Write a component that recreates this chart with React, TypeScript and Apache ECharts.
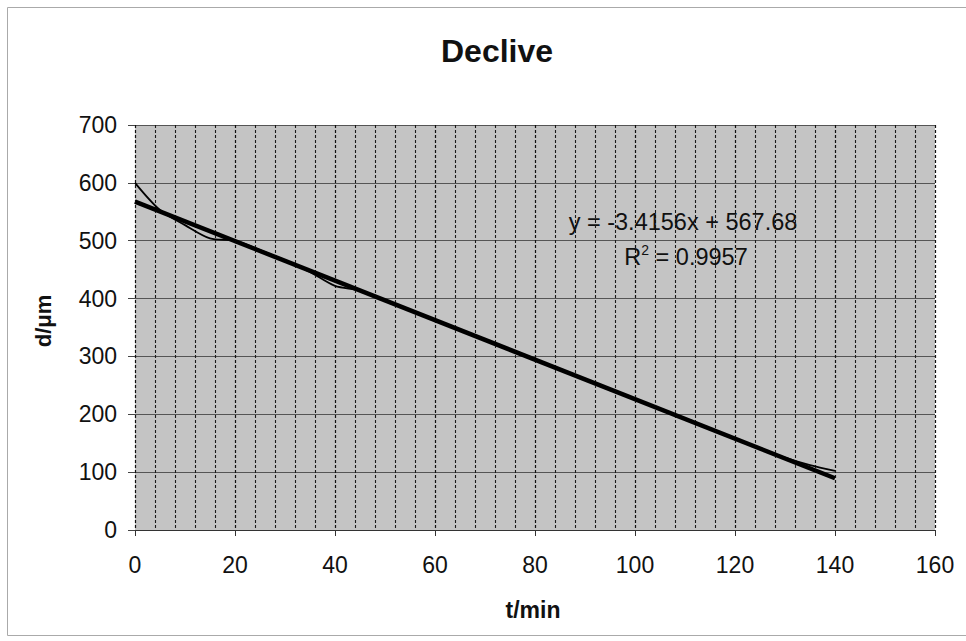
import React, { useEffect, useRef } from "react";
import * as echarts from "echarts";

const times = [0, 5, 10, 15, 20, 25, 30, 35, 40, 45, 50, 55, 60, 65, 70, 75, 80, 85, 90, 95, 100, 105, 110, 115, 120, 125, 130, 135, 140];
const diameters = [600, 553, 527, 504, 500, 484, 466, 446, 422, 414, 397, 380, 363, 346, 329, 311, 295, 277, 260, 243, 226, 209, 192, 175, 158, 141, 125, 112, 102];
const trendSlope = -3.4156;
const trendIntercept = 567.68;
const trendRange = [0, 140];
const equationText = "y = -3.4156x + 567.68";
const r2Value = "0.9957";
const FONT = '"Liberation Sans", Arial, sans-serif';

export default function App() {
  const ref = useRef<HTMLDivElement>(null);
  useEffect(() => {
    if (!ref.current) return;
    const chart = echarts.init(ref.current, null, { renderer: "svg" });
    const dataPts = times.map((t, i) => [t, diameters[i]]);
    const trendPts = trendRange.map((t) => [t, trendSlope * t + trendIntercept]);
    chart.setOption({
      animation: false,
      backgroundColor: "#ffffff",
      title: {
        text: "Declive",
        left: 492,
        top: 30,
        textAlign: "center",
        textStyle: { fontFamily: FONT, fontSize: 32, fontWeight: "bold", color: "#111" },
      },
      grid: {
        left: 135,
        top: 125,
        right: 31,
        bottom: 111,
        show: true,
        backgroundColor: "#c4c4c4",
        borderWidth: 0,
      },
      xAxis: {
        type: "value",
        min: 0,
        max: 160,
        interval: 20,
        axisLine: { show: true, lineStyle: { color: "#333", width: 1 } },
        axisTick: { show: true, length: 6, lineStyle: { color: "#333" } },
        axisLabel: { fontFamily: FONT, fontSize: 23, color: "#111", margin: 23 },
        splitLine: { show: true, lineStyle: { color: "#111", type: [3, 2], width: 1.2 } },
        minorTick: { show: false, splitNumber: 5 },
        minorSplitLine: { show: true, lineStyle: { color: "#1a1a1a", type: [3, 2], width: 1.1 } },
      },
      yAxis: {
        type: "value",
        min: 0,
        max: 700,
        interval: 100,
        axisLine: { show: false },
        axisTick: { show: true, length: 7, lineStyle: { color: "#444" } },
        axisLabel: { fontFamily: FONT, fontSize: 23, color: "#111", margin: 18 },
        splitLine: { show: true, lineStyle: { color: "#555", type: "solid", width: 1.2 } },
      },
      series: [
        {
          type: "line",
          data: dataPts,
          smooth: 0.3,
          symbol: "none",
          lineStyle: { color: "#000", width: 1.8 },
          z: 3,
        },
        {
          type: "line",
          data: trendPts,
          symbol: "none",
          lineStyle: { color: "#000", width: 4.5 },
          z: 2,
        },
      ],
      graphic: [
        {
          type: "rect",
          silent: true,
          shape: { x: 7.5, y: 7.5, width: 990, height: 628 },
          style: { fill: "none", stroke: "#aaa", lineWidth: 1 },
          z: -10,
        },
        {
          type: "text",
          x: 683,
          y: 222,
          style: {
            text: equationText,
            fontFamily: FONT,
            fontSize: 23.5,
            fill: "#111",
            textAlign: "center",
            textVerticalAlign: "middle",
          },
          z: 10,
        },
        {
          type: "text",
          x: 686,
          y: 257,
          style: {
            text: "R{sup|2} = " + r2Value,
            fontFamily: FONT,
            fontSize: 23.5,
            fill: "#111",
            textAlign: "center",
            textVerticalAlign: "middle",
            rich: {
              sup: { fontFamily: FONT, fontSize: 14, verticalAlign: "top", padding: [0, 0, 14, 0], fill: "#111" },
            },
          },
          z: 10,
        },
        {
          type: "text",
          x: 43,
          y: 321,
          rotation: Math.PI / 2,
          style: {
            text: "d/μm",
            fontFamily: FONT,
            fontSize: 22,
            fontWeight: "bold",
            fill: "#111",
            textAlign: "center",
            textVerticalAlign: "middle",
          },
        },
        {
          type: "text",
          x: 533,
          y: 610,
          style: {
            text: "t/min",
            fontFamily: FONT,
            fontSize: 23,
            fontWeight: "bold",
            fill: "#111",
            textAlign: "center",
            textVerticalAlign: "middle",
          },
        },
      ],
    });
    return () => chart.dispose();
  }, []);
  return (
    <div
      ref={ref}
      style={{ position: "absolute", left: 0, top: 0, width: 966, height: 641 }}
    />
  );
}
